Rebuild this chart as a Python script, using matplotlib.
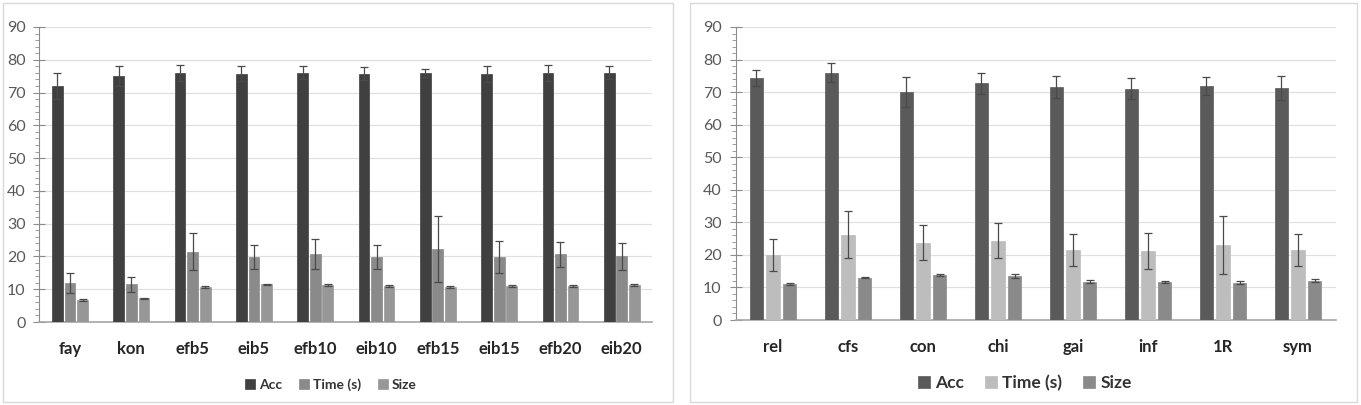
import matplotlib
matplotlib.use("Agg")
import matplotlib.pyplot as plt
from matplotlib.patches import Rectangle
from matplotlib.ticker import MultipleLocator
import numpy as np

plt.rcParams['font.family'] = ['Lato', 'DejaVu Sans']

# ---- Left chart data ----
left_cats = ["fay", "kon", "efb5", "eib5", "efb10", "eib10", "efb15", "eib15", "efb20", "eib20"]
left_acc = [72.0, 75.0, 76.0, 75.7, 76.0, 75.7, 76.0, 75.7, 76.0, 76.0]
left_acc_err = [4.0, 3.0, 2.5, 2.3, 2.0, 2.0, 1.3, 2.5, 2.5, 2.0]
left_time = [11.8, 11.5, 21.5, 19.8, 20.8, 19.8, 22.3, 19.8, 20.6, 20.0]
left_time_err = [3.0, 2.3, 5.7, 3.7, 4.5, 3.7, 10.0, 5.0, 3.8, 4.2]
left_size = [6.7, 7.2, 10.8, 11.5, 11.3, 11.0, 10.8, 11.0, 11.0, 11.3]
left_size_err = [0.2, 0.2, 0.3, 0.2, 0.2, 0.3, 0.3, 0.3, 0.3, 0.2]

# ---- Right chart data ----
right_cats = ["rel", "cfs", "con", "chi", "gai", "inf", "1R", "sym"]
right_acc = [74.3, 76.0, 70.0, 72.7, 71.5, 71.0, 71.8, 71.3]
right_acc_err = [2.5, 2.8, 4.6, 3.3, 3.3, 3.2, 2.8, 3.8]
right_time = [20.0, 26.2, 23.8, 24.4, 21.6, 21.2, 23.0, 21.6]
right_time_err = [4.9, 7.2, 5.5, 5.4, 4.9, 5.6, 9.0, 4.9]
right_size = [11.0, 13.0, 13.8, 13.5, 11.8, 11.8, 11.5, 12.1]
right_size_err = [0.3, 0.2, 0.4, 0.5, 0.4, 0.3, 0.4, 0.5]

series_names = ["Acc", "Time (s)", "Size"]

fig = plt.figure(figsize=(13.61, 4.05), dpi=100)

# panel borders
for (x0, w) in [(3 / 1361, 670 / 1361), (690 / 1361, 667 / 1361)]:
    fig.patches.append(Rectangle((x0, 3 / 405), w, 399 / 405, transform=fig.transFigure,
                                 fill=False, edgecolor="#d9d9d9", linewidth=1.0))


def draw(ax, cats, vals, errs, colors, width, step, legend_fs, legend_y, legend_x):
    x = np.arange(len(cats))
    offsets = [-step, 0, step]
    handles = []
    for i in range(3):
        b = ax.bar(x + offsets[i], vals[i], width, color=colors[i], edgecolor=colors[i],
                   linewidth=0.5, zorder=3, label=series_names[i])
        ax.errorbar(x + offsets[i], vals[i], yerr=errs[i], fmt="none", ecolor="#4a4a4a",
                    elinewidth=0.9, capsize=3, capthick=0.9, zorder=4)
        handles.append(b)
    ax.set_xlim(-0.5, len(cats) - 0.5)
    ax.set_ylim(0, 90)
    ax.yaxis.set_major_locator(MultipleLocator(10))
    ax.yaxis.set_minor_locator(MultipleLocator(2))
    ax.grid(axis="y", color="#e0e0e0", linewidth=0.9, zorder=0)
    ax.set_axisbelow(True)
    for s in ["top", "right"]:
        ax.spines[s].set_visible(False)
    ax.spines["left"].set_color("#8c8c8c")
    ax.spines["bottom"].set_color("#a6a6a6")
    ax.spines["bottom"].set_linewidth(1.2)
    ax.set_xticks(x)
    ax.set_xticklabels(cats, fontsize=12, fontweight="bold", color="#262626")
    ax.tick_params(axis="x", length=0, pad=14)
    ax.tick_params(axis="y", which="major", direction="inout", length=8, color="#8c8c8c",
                   labelsize=11.5, labelcolor="#595959", pad=6)
    ax.tick_params(axis="y", which="minor", direction="out", length=3, color="#8c8c8c")
    leg = fig.legend(handles=handles, labels=series_names, loc="center",
                     bbox_to_anchor=(legend_x, legend_y), ncol=3, frameon=False,
                     prop={"size": legend_fs, "weight": "bold"}, handlelength=0.7,
                     handleheight=0.7, handletextpad=0.3, columnspacing=1.2)
    for t in leg.get_texts():
        t.set_color("#333333")


axL = fig.add_axes([39.4 / 1361, 83 / 405, 613 / 1361, 295 / 405])
draw(axL, left_cats, [left_acc, left_time, left_size],
     [left_acc_err, left_time_err, left_size_err],
     ["#404040", "#8a8a8a", "#979797"], 0.175, 0.205, 10, 20 / 405, 331 / 1361)

axR = fig.add_axes([735.5 / 1361, 85 / 405, 600 / 1361, 293 / 405])
draw(axR, right_cats, [right_acc, right_time, right_size],
     [right_acc_err, right_time_err, right_size_err],
     ["#5a5a5a", "#bdbdbd", "#8a8a8a"], 0.175, 0.225, 12.5, 22 / 405, 1025 / 1361)

fig.savefig("out.png", dpi=100)
